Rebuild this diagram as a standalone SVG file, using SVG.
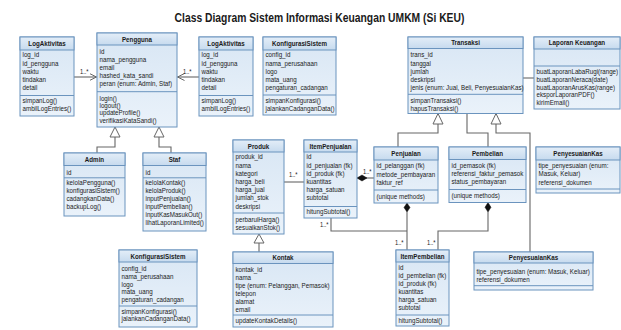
<svg xmlns="http://www.w3.org/2000/svg" width="621" height="330" viewBox="0 0 621 330">
<defs>
<linearGradient id="gb" x1="0" y1="0" x2="0" y2="1"><stop offset="0" stop-color="#d8e6f4"/><stop offset="1" stop-color="#eaf2fa"/></linearGradient>
<linearGradient id="gh" x1="0" y1="0" x2="0" y2="1"><stop offset="0" stop-color="#e4eef8"/><stop offset="1" stop-color="#c6daee"/></linearGradient>
<marker id="open" markerWidth="8" markerHeight="8" refX="7" refY="4" orient="auto" markerUnits="userSpaceOnUse"><path d="M0,0.5 L7,4 L0,7.5" fill="none" stroke="#666" stroke-width="1"/></marker>
</defs>
<style>
.bd{fill:url(#gb);stroke:#6b94be;stroke-width:1}
.hd{fill:url(#gh);stroke:#6b94be;stroke-width:1}
.dv{stroke:#6b94be;stroke-width:1}
text{font-family:"Liberation Sans",Arial,sans-serif;fill:#1a1a1a}
.t{font-size:7.6px;font-weight:bold;text-anchor:middle}
.a{font-size:7.6px}
.ttl{font-size:12.6px;font-weight:bold;text-anchor:middle}
.c{fill:none;stroke:#666;stroke-width:1.1}
.tri{fill:#fff;stroke:#666;stroke-width:1}
.dia{fill:#111;stroke:#111;stroke-width:0.5}
.lb{font-size:7px}
</style>
<rect width="621" height="330" fill="#fff"/>
<text class="ttl" transform="translate(319.5 0) scale(0.82 1)" x="0" y="22">Class Diagram Sistem Informasi Keuangan UMKM (Si KEU)</text>

<g id="connectors">
<path class="c" d="M74,77 H96.5" marker-end="url(#open)"/>
<text class="lb" transform="translate(80 0) scale(0.82 1)" x="0" y="74">1..*</text>
<path class="c" d="M199,77 H177.5" marker-end="url(#open)"/>
<text class="lb" transform="translate(183 0) scale(0.82 1)" x="0" y="74">1..*</text>
<path class="c" d="M115,137 V147 H97 V153"/>
<path class="tri" d="M115,127 L120,137 L110,137 Z"/>
<path class="c" d="M159,137 V147 H171 V153"/>
<path class="tri" d="M159,127 L164,137 L154,137 Z"/>
<path class="c" d="M523,78 H534"/>
<path class="c" d="M438,124 V133 H398 V147"/>
<path class="tri" d="M438,113.5 L443,124 L433,124 Z"/>
<path class="c" d="M467,113.5 V133 H488 V147"/>
<path class="c" d="M496,124 V133 H530 V252"/>
<path class="tri" d="M496,113.5 L501,124 L491,124 Z"/>
<path class="c" d="M259,243 V252"/>
<path class="tri" d="M259,234 L264,243 L254,243 Z"/>
<path class="c" d="M284,182 H304"/>
<text class="lb" transform="translate(289 0) scale(0.82 1)" x="0" y="177">1..*</text>
<path class="c" d="M357,178 H374"/>
<path class="dia" d="M357,178 L362,175 L367,178 L362,181 Z"/>
<text class="lb" transform="translate(363 0) scale(0.82 1)" x="0" y="174">1..*</text>
<path class="c" d="M407,212 V250"/>
<path class="dia" d="M407,203 L410,207.5 L407,212 L404,207.5 Z"/>
<text class="lb" transform="translate(395 0) scale(0.82 1)" x="0" y="245">1..*</text>
<path class="c" d="M331,218 V231 H407"/>
<text class="lb" transform="translate(320 0) scale(0.82 1)" x="0" y="227">1..*</text>
<path class="c" d="M488,212 V231 H438 V250"/>
<path class="dia" d="M488,202.5 L491,207.3 L488,212 L485,207.3 Z"/>
<text class="lb" transform="translate(427 0) scale(0.82 1)" x="0" y="245">1..*</text>
</g>

<g id="LogAktivitas1">
<rect class="bd" x="20" y="37" width="54" height="79"/>
<rect class="hd" x="20" y="37" width="54" height="13"/>
<line class="dv" x1="20" y1="95.5" x2="74" y2="95.5"/>
<text class="t" transform="translate(47 0) scale(0.82 1)" x="0" y="46.5">LogAktivitas</text>
<text class="a" transform="translate(22.5 0) scale(0.82 1)"><tspan x="0" y="57.5">log_id</tspan><tspan x="0" y="65.7">id_pengguna</tspan><tspan x="0" y="73.9">waktu</tspan><tspan x="0" y="82.1">tindakan</tspan><tspan x="0" y="90.3">detail</tspan><tspan x="0" y="103.5">simpanLog()</tspan><tspan x="0" y="111.5">ambilLogEntries()</tspan></text>
</g>

<g id="Pengguna">
<rect class="bd" x="97" y="33" width="80" height="94"/>
<rect class="hd" x="97" y="33" width="80" height="12"/>
<line class="dv" x1="97" y1="91.7" x2="177" y2="91.7"/>
<text class="t" transform="translate(137 0) scale(0.82 1)" x="0" y="41.8">Pengguna</text>
<text class="a" transform="translate(99.5 0) scale(0.82 1)"><tspan x="0" y="54.2">id</tspan><tspan x="0" y="62.1">nama_pengguna</tspan><tspan x="0" y="70">email</tspan><tspan x="0" y="77.9">hashed_kata_sandi</tspan><tspan x="0" y="85.8">peran (enum: Admin, Staf)</tspan><tspan x="0" y="100.8">login()</tspan><tspan x="0" y="108.1">logout()</tspan><tspan x="0" y="115.4">updateProfile()</tspan><tspan x="0" y="122.7">verifikasiKataSandi()</tspan></text>
</g>

<g id="LogAktivitas2">
<rect class="bd" x="199" y="37" width="54" height="79"/>
<rect class="hd" x="199" y="37" width="54" height="13"/>
<line class="dv" x1="199" y1="95.5" x2="253" y2="95.5"/>
<text class="t" transform="translate(226 0) scale(0.82 1)" x="0" y="46.5">LogAktivitas</text>
<text class="a" transform="translate(201.5 0) scale(0.82 1)"><tspan x="0" y="57.5">log_id</tspan><tspan x="0" y="65.7">id_pengguna</tspan><tspan x="0" y="73.9">waktu</tspan><tspan x="0" y="82.1">tindakan</tspan><tspan x="0" y="90.3">detail</tspan><tspan x="0" y="103.5">simpanLog()</tspan><tspan x="0" y="111.5">ambilLogEntries()</tspan></text>
</g>

<g id="KonfigurasiSistem1">
<rect class="bd" x="263" y="37" width="73" height="78"/>
<rect class="hd" x="263" y="37" width="73" height="13"/>
<line class="dv" x1="263" y1="95" x2="336" y2="95"/>
<text class="t" transform="translate(299.5 0) scale(0.82 1)" x="0" y="46.5">KonfigurasiSistem</text>
<text class="a" transform="translate(265.5 0) scale(0.82 1)"><tspan x="0" y="57.5">config_id</tspan><tspan x="0" y="65.7">nama_perusahaan</tspan><tspan x="0" y="73.9">logo</tspan><tspan x="0" y="82.1">mata_uang</tspan><tspan x="0" y="90">pengaturan_cadangan</tspan><tspan x="0" y="103.5">simpanKonfigurasi()</tspan><tspan x="0" y="111.5">jalankanCadanganData()</tspan></text>
</g>

<g id="Transaksi">
<rect class="bd" x="408" y="37" width="115" height="76.5"/>
<rect class="hd" x="408" y="37" width="115" height="11.5"/>
<line class="dv" x1="408" y1="94.3" x2="523" y2="94.3"/>
<text class="t" transform="translate(465.5 0) scale(0.82 1)" x="0" y="45.5">Transaksi</text>
<text class="a" transform="translate(410.5 0) scale(0.82 1)"><tspan x="0" y="57.5">trans_id</tspan><tspan x="0" y="65.6">tanggal</tspan><tspan x="0" y="73.7">jumlah</tspan><tspan x="0" y="81.8">deskripsi</tspan><tspan x="0" y="89.9">jenis (enum: Jual, Beli, PenyesuaianKas)</tspan><tspan x="0" y="103">simpanTransaksi()</tspan><tspan x="0" y="110.8">hapusTransaksi()</tspan></text>
</g>

<g id="LaporanKeuangan">
<rect class="bd" x="534" y="37" width="86" height="72"/>
<rect class="hd" x="534" y="37" width="86" height="12"/>
<line class="dv" x1="534" y1="66" x2="620" y2="66"/>
<text class="t" transform="translate(577 0) scale(0.82 1)" x="0" y="45.5">Laporan Keuangan</text>
<text class="a" transform="translate(536.5 0) scale(0.82 1)"><tspan x="0" y="74.2">buatLaporanLabaRugi(range)</tspan><tspan x="0" y="81.9">buatLaporanNeraca(date)</tspan><tspan x="0" y="89.7">buatLaporanArusKas(range)</tspan><tspan x="0" y="97.5">eksporLaporanPDF()</tspan><tspan x="0" y="105.2">kirimEmail()</tspan></text>
</g>

<g id="Admin">
<rect class="bd" x="64" y="153" width="61" height="63"/>
<rect class="hd" x="64" y="153" width="61" height="12.5"/>
<line class="dv" x1="64" y1="177.8" x2="125" y2="177.8"/>
<text class="t" transform="translate(94.5 0) scale(0.82 1)" x="0" y="162">Admin</text>
<text class="a" transform="translate(66.5 0) scale(0.82 1)"><tspan x="0" y="175">id</tspan><tspan x="0" y="185.3">kelolaPengguna()</tspan><tspan x="0" y="193.3">konfigurasiSistem()</tspan><tspan x="0" y="201.3">cadangkanData()</tspan><tspan x="0" y="209.3">backupLog()</tspan></text>
</g>

<g id="Staf">
<rect class="bd" x="143" y="153" width="63" height="78"/>
<rect class="hd" x="143" y="153" width="63" height="12.5"/>
<line class="dv" x1="143" y1="177.8" x2="206" y2="177.8"/>
<text class="t" transform="translate(174.5 0) scale(0.82 1)" x="0" y="162">Staf</text>
<text class="a" transform="translate(145.5 0) scale(0.82 1)"><tspan x="0" y="175">id</tspan><tspan x="0" y="185.3">kelolaKontak()</tspan><tspan x="0" y="193.3">kelolaProduk()</tspan><tspan x="0" y="201.3">inputPenjualan()</tspan><tspan x="0" y="209.3">inputPembelian()</tspan><tspan x="0" y="217.3">inputKasMasukOut()</tspan><tspan x="0" y="225.3">lihatLaporanLimited()</tspan></text>
</g>

<g id="Produk">
<rect class="bd" x="233" y="140" width="51" height="94"/>
<rect class="hd" x="233" y="140" width="51" height="12"/>
<line class="dv" x1="233" y1="213" x2="284" y2="213"/>
<text class="t" transform="translate(258.5 0) scale(0.82 1)" x="0" y="149">Produk</text>
<text class="a" transform="translate(235.5 0) scale(0.82 1)"><tspan x="0" y="159.5">produk_id</tspan><tspan x="0" y="167.7">nama</tspan><tspan x="0" y="175.9">kategori</tspan><tspan x="0" y="184.1">harga_beli</tspan><tspan x="0" y="192.3">harga_jual</tspan><tspan x="0" y="200.5">jumlah_stok</tspan><tspan x="0" y="208.7">deskripsi</tspan><tspan x="0" y="222.5">perbaruiHarga()</tspan><tspan x="0" y="230.5">sesuaikanStok()</tspan></text>
</g>

<g id="ItemPenjualan">
<rect class="bd" x="304" y="140" width="53" height="78"/>
<rect class="hd" x="304" y="140" width="53" height="12"/>
<line class="dv" x1="304" y1="206.5" x2="357" y2="206.5"/>
<text class="t" transform="translate(330.5 0) scale(0.82 1)" x="0" y="149">ItemPenjualan</text>
<text class="a" transform="translate(306.5 0) scale(0.82 1)"><tspan x="0" y="159.5">id</tspan><tspan x="0" y="167.7">id_penjualan (fk)</tspan><tspan x="0" y="175.9">id_produk (fk)</tspan><tspan x="0" y="184.1">kuantitas</tspan><tspan x="0" y="192.3">harga_satuan</tspan><tspan x="0" y="200.5">subtotal</tspan><tspan x="0" y="214.3">hitungSubtotal()</tspan></text>
</g>

<g id="Penjualan">
<rect class="bd" x="374" y="147" width="64" height="56"/>
<rect class="hd" x="374" y="147" width="64" height="13"/>
<line class="dv" x1="374" y1="190" x2="438" y2="190"/>
<text class="t" transform="translate(406 0) scale(0.82 1)" x="0" y="156">Penjualan</text>
<text class="a" transform="translate(376.5 0) scale(0.82 1)"><tspan x="0" y="168.5">id_pelanggan (fk)</tspan><tspan x="0" y="176.7">metode_pembayaran</tspan><tspan x="0" y="184.9">faktur_ref</tspan><tspan x="0" y="199.3">(unique methods)</tspan></text>
</g>

<g id="Pembelian">
<rect class="bd" x="449" y="147" width="77" height="55.5"/>
<rect class="hd" x="449" y="147" width="77" height="12.5"/>
<line class="dv" x1="449" y1="189.5" x2="526" y2="189.5"/>
<text class="t" transform="translate(487.5 0) scale(0.82 1)" x="0" y="156">Pembelian</text>
<text class="a" transform="translate(451.5 0) scale(0.82 1)"><tspan x="0" y="167.8">id_pemasok (fk)</tspan><tspan x="0" y="176">referensi_faktur_pemasok</tspan><tspan x="0" y="184.2">status_pembayaran</tspan><tspan x="0" y="198.5">(unique methods)</tspan></text>
</g>

<g id="PenyesuaianKas1">
<rect class="bd" x="536" y="147" width="84" height="46"/>
<rect class="hd" x="536" y="147" width="84" height="13"/>
<line class="dv" x1="536" y1="189" x2="620" y2="189"/>
<text class="t" transform="translate(578 0) scale(0.82 1)" x="0" y="156">PenyesuaianKas</text>
<text class="a" transform="translate(538.5 0) scale(0.82 1)"><tspan x="0" y="167.8">tipe_penyesuaian (enum:</tspan><tspan x="0" y="176.2">Masuk, Keluar)</tspan><tspan x="0" y="184.6">referensi_dokumen</tspan></text>
</g>

<g id="ItemPembelian">
<rect class="bd" x="396" y="250" width="53" height="76"/>
<rect class="hd" x="396" y="250" width="53" height="12"/>
<line class="dv" x1="396" y1="315" x2="449" y2="315"/>
<text class="t" transform="translate(422.5 0) scale(0.82 1)" x="0" y="259">ItemPembelian</text>
<text class="a" transform="translate(398.5 0) scale(0.82 1)"><tspan x="0" y="270.5">id</tspan><tspan x="0" y="278.5">id_pembelian (fk)</tspan><tspan x="0" y="286.5">id_produk (fk)</tspan><tspan x="0" y="294.5">kuantitas</tspan><tspan x="0" y="302.5">harga_satuan</tspan><tspan x="0" y="310.5">subtotal</tspan><tspan x="0" y="323.5">hitungSubtotal()</tspan></text>
</g>

<g id="PenyesuaianKas2">
<rect class="bd" x="474" y="252" width="119" height="38"/>
<rect class="hd" x="474" y="252" width="119" height="11"/>
<line class="dv" x1="474" y1="285.7" x2="593" y2="285.7"/>
<text class="t" transform="translate(533.5 0) scale(0.82 1)" x="0" y="260.5">PenyesuaianKas</text>
<text class="a" transform="translate(476.5 0) scale(0.82 1)"><tspan x="0" y="274.2">tipe_penyesuaian (enum: Masuk, Keluar)</tspan><tspan x="0" y="281.8">referensi_dokumen</tspan></text>
</g>

<g id="Kontak">
<rect class="bd" x="233" y="252" width="100" height="75"/>
<rect class="hd" x="233" y="252" width="100" height="11.5"/>
<line class="dv" x1="233" y1="315" x2="333" y2="315"/>
<text class="t" transform="translate(283 0) scale(0.82 1)" x="0" y="260.5">Kontak</text>
<text class="a" transform="translate(235.5 0) scale(0.82 1)"><tspan x="0" y="271.8">kontak_id</tspan><tspan x="0" y="279.8">nama</tspan><tspan x="0" y="287.8">tipe (enum: Pelanggan, Pemasok)</tspan><tspan x="0" y="295.8">telepon</tspan><tspan x="0" y="303.8">alamat</tspan><tspan x="0" y="311.8">email</tspan><tspan x="0" y="322.8">updateKontakDetails()</tspan></text>
</g>

<g id="KonfigurasiSistem2">
<rect class="bd" x="119" y="250" width="78" height="77"/>
<rect class="hd" x="119" y="250" width="78" height="12"/>
<line class="dv" x1="119" y1="306" x2="197" y2="306"/>
<text class="t" transform="translate(158 0) scale(0.82 1)" x="0" y="259">KonfigurasiSistem</text>
<text class="a" transform="translate(121.5 0) scale(0.82 1)"><tspan x="0" y="270.8">config_id</tspan><tspan x="0" y="278.7">nama_perusahaan</tspan><tspan x="0" y="286.6">logo</tspan><tspan x="0" y="294.5">mata_uang</tspan><tspan x="0" y="302.4">pengaturan_cadangan</tspan><tspan x="0" y="313.7">simpanKonfigurasi()</tspan><tspan x="0" y="321.5">jalankanCadanganData()</tspan></text>
</g>
</svg>
